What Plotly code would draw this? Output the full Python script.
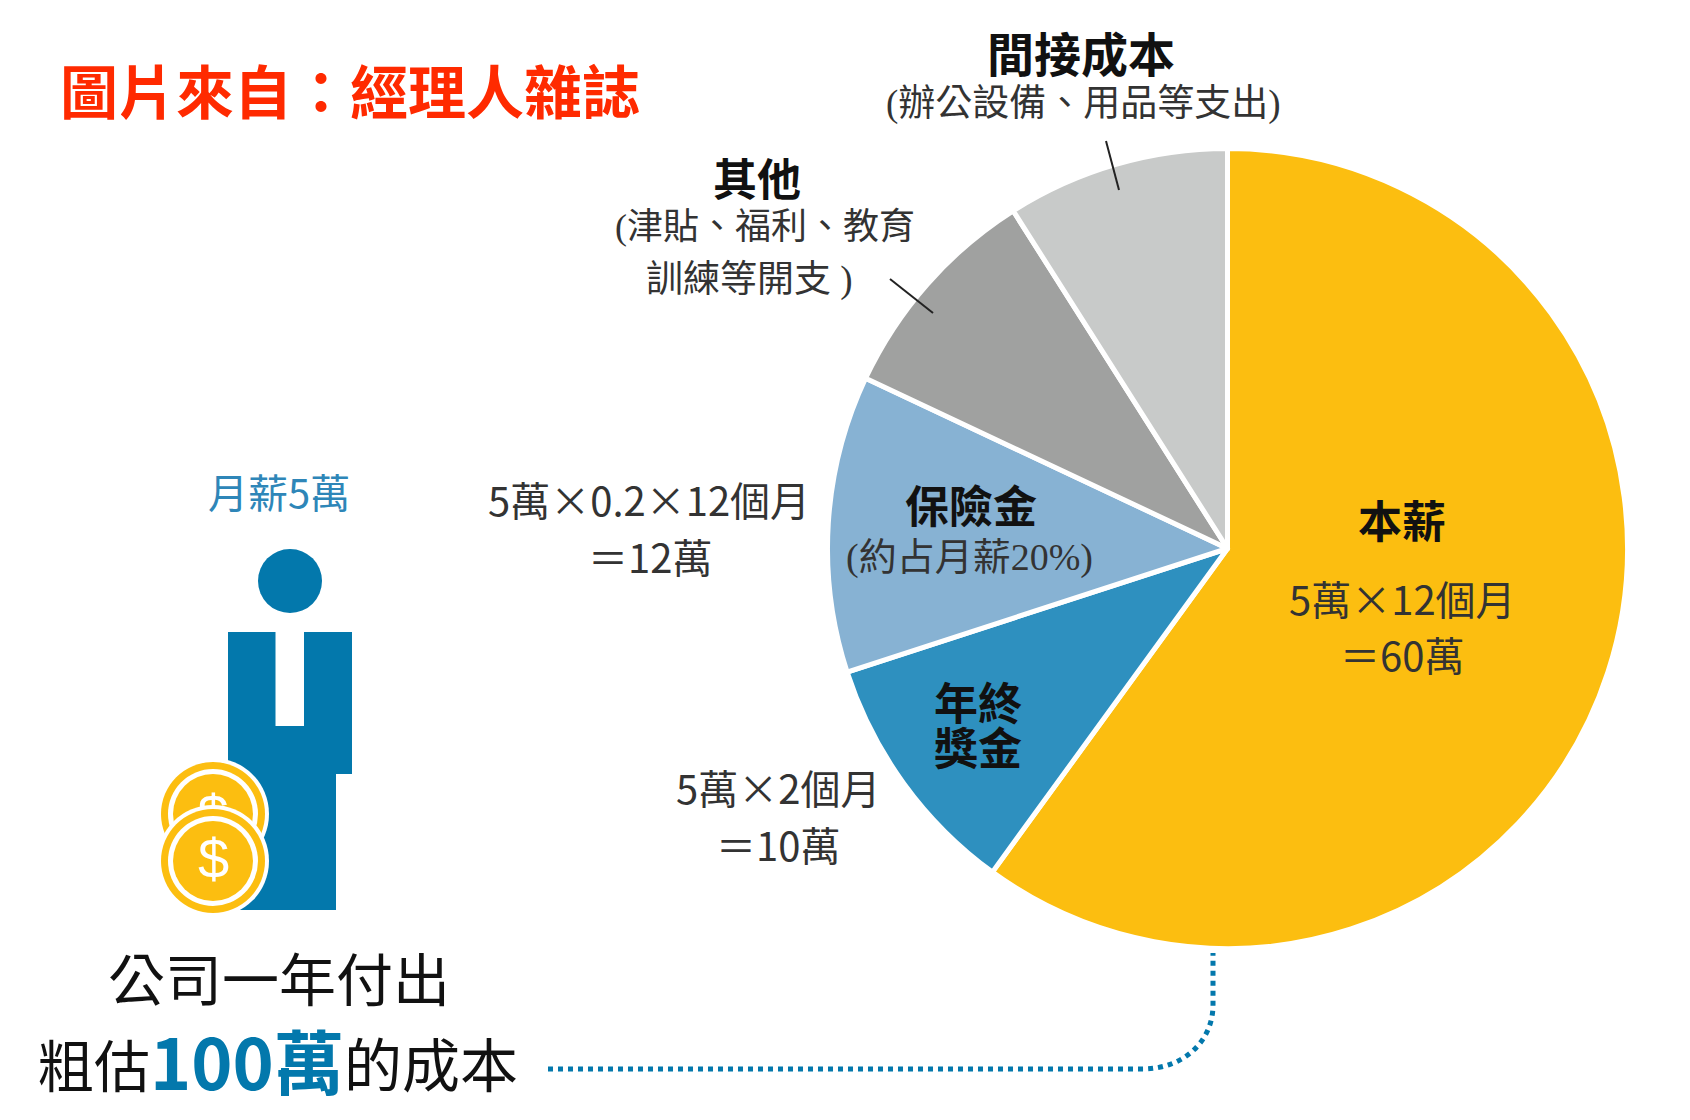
import plotly.graph_objects as go

# 一年成本 (萬)
categories = ['本薪', '年終獎金', '保險金', '其他', '間接成本']
values = [60, 10, 12, 9, 9]
slice_colors = ['#FCBE10', '#2E90BF', '#87B2D3', '#A0A1A0', '#C8CAC9']

W, H = 1690, 1120
CJK = 'Noto Sans CJK TC'
SERIF = 'Liberation Serif, Noto Sans CJK TC'
BLUE = '#0378AC'
COIN = '#FCBE10'
INK = '#111111'


def label(text, x, y, size, color=INK, family=CJK):
    # font sits a little low when middle anchored
    return dict(text=text, x=x, y=y - 3, xref='x', yref='y', showarrow=False,
                xanchor='center', yanchor='middle',
                font=dict(size=size, color=color, family=family))


def ellipse(cx, cy, r, color, layer):
    return dict(type='circle', xref='x', yref='y', x0=cx - r, x1=cx + r, y0=cy - r, y1=cy + r,
                fillcolor=color, line_width=0, layer=layer)


def coin(cx, cy, layer):
    return [ellipse(cx, cy, 56, 'white', layer),
            ellipse(cx, cy, 52, COIN, layer),
            ellipse(cx, cy, 45, 'white', layer),
            ellipse(cx, cy, 40, COIN, layer)]


fig = go.Figure()

# left/right/top/bottom of the pie in pixels
pie_l, pie_r, pie_t, pie_b = 827.5, 1627.5, 148.5, 948.5
fig.add_trace(go.Pie(labels=categories, values=values, sort=False, direction='clockwise', rotation=0,
                     textinfo='none', showlegend=False, hole=0,
                     marker=dict(colors=slice_colors, line=dict(color='white', width=5)),
                     domain=dict(x=[pie_l / W, pie_r / W], y=[1 - pie_b / H, 1 - pie_t / H])))

# dollar sign of the back coin, sits between the two coins
fig.add_trace(go.Scatter(x=[213], y=[820], mode='text', text=['$'], showlegend=False, hoverinfo='skip',
                         textposition='middle center',
                         textfont=dict(size=56, color='white', family='Liberation Sans')))

shapes = []
# person
shapes.append(ellipse(290, 581, 32, BLUE, 'below'))
shapes.append(dict(type='path', xref='x', yref='y', layer='below', fillcolor=BLUE, line_width=0,
                   path='M228,632 L275.5,632 L275.5,726 L304,726 L304,632 L352,632 L352,774 L336,774 '
                        'L336,910 L240,910 L240,790 L228,790 Z'))
shapes += coin(213, 814, 'below')
shapes += coin(213, 861, 'above')

# leader lines
shapes.append(dict(type='line', xref='x', yref='y', x0=1106, y0=141, x1=1119, y1=190, layer='above',
                   line=dict(color='#222222', width=2)))
shapes.append(dict(type='line', xref='x', yref='y', x0=890, y0=279, x1=933, y1=313, layer='above',
                   line=dict(color='#222222', width=2)))

# dotted link from the total to the pie
shapes.append(dict(type='path', xref='x', yref='y', layer='above',
                   path='M548,1069 L1142,1069 C1185,1069 1213,1040 1213,1005 L1213,953',
                   line=dict(color=BLUE, width=5, dash='5px,5px')))

annotations = [
    label('<b>圖片來自：經理人雜誌</b>', 350, 92, 58, '#FF2A00'),
    label('<b>間接成本</b>', 1081, 54, 47),
    label('(辦公設備、用品等支出)', 1083, 107, 37, '#333333', SERIF),
    label('<b>其他</b>', 757, 180, 44),
    label('(津貼、福利、教育', 765, 230, 36, '#333333', SERIF),
    label('訓練等開支 )', 749, 283, 37, '#333333', SERIF),
    label('月薪5萬', 279, 494, 40, '#2E86B8'),
    label('5萬×0.2×12個月', 649, 502, 40, '#333333'),
    label('＝12萬', 650, 559, 40, '#333333'),
    label('<b>保險金</b>', 971, 507, 44),
    label('(約占月薪20%)', 969, 560, 38, '#333333', SERIF),
    label('<b>年終</b>', 978, 704, 44),
    label('<b>獎金</b>', 978, 749, 44),
    label('5萬×2個月', 778, 790, 40, '#333333'),
    label('＝10萬', 778, 847, 40, '#333333'),
    label('<b>本薪</b>', 1402, 522, 44),
    label('5萬×12個月', 1402, 601, 40, '#333333'),
    label('＝60萬', 1402, 657, 40, '#333333'),
    label('公司一年付出', 279, 979, 57),
    label('粗估', 94, 1065, 56),
    label('<b>100萬</b>', 247, 1062, 70, BLUE),
    label('的成本', 431, 1065, 58),
    label('$', 213, 861, 56, 'white', 'Liberation Sans'),
]

fig.update_layout(
    width=W, height=H, margin=dict(l=0, r=0, t=0, b=0),
    paper_bgcolor='white', plot_bgcolor='white',
    xaxis=dict(range=[0, W], visible=False, fixedrange=True),
    yaxis=dict(range=[H, 0], visible=False, fixedrange=True),
    shapes=shapes, annotations=annotations,
)

# page has a default body margin that shifts the whole figure
fig.write_html("out.html", config={'displayModeBar': False},
               post_script="document.body.style.margin='0';")
